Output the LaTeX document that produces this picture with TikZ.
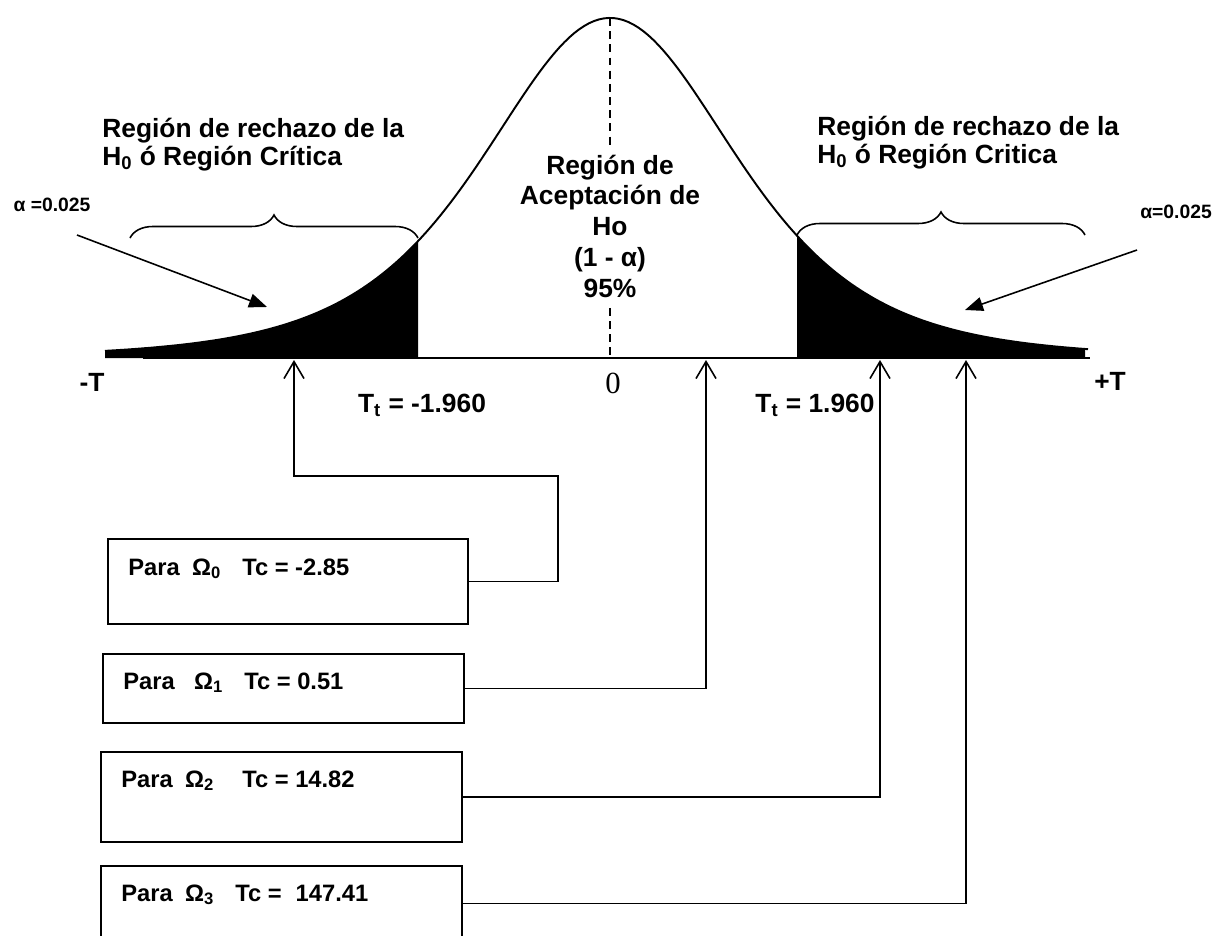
\documentclass[tikz,border=0pt]{standalone}
\usepackage{fontspec}
\setmainfont{Liberation Sans}
\newfontfamily\serifcero{Liberation Serif}
\usetikzlibrary{arrows.meta,decorations.pathreplacing}

\tikzset{
  rotulo/.style={font=\bfseries\fontsize{15}{16}\selectfont, align=left, inner sep=0pt},
  alfa/.style={font=\bfseries\fontsize{11}{13}\selectfont, inner sep=0pt},
  caja/.style={draw, line width=1.1pt, anchor=north west, inner sep=0pt},
  para/.style={font=\bfseries\fontsize{13.5}{15}\selectfont, anchor=base west, inner sep=0pt},
  flecha/.style={line width=0.9pt, -{Straight Barb[length=3.4mm,width=4mm]}},
  punta/.style={line width=0.9pt, -{Triangle[length=3.6mm,width=2.8mm]}},
  llave/.style={decorate, decoration={brace, amplitude=0.46cm}, line width=0.9pt},
}

\begin{document}
\begin{tikzpicture}[x=0.02cm, y=-0.02cm,
    declare function={campana(\x)=358-340*exp(-2.5*ln(1+((\x-610)/131.5)^2/4));}]
  \useasboundingbox (0,0) rectangle (1220,936);

  % colas de rechazo
  \fill plot[domain=105:418, samples=80] (\x,{campana(\x)}) -- (418,358) -- (105,358) -- cycle;
  \fill plot[domain=797:1085, samples=80] (\x,{campana(\x)}) -- (1085,358) -- (797,358) -- cycle;

  % curva y eje
  \draw[line width=1.1pt] plot[domain=105:1088, samples=200] (\x,{campana(\x)});
  \draw[line width=1.3pt] (143,358) -- (1090,358);
  \draw[line width=1pt, dash pattern=on 4.5pt off 3pt] (610,18) -- (610,358);

  \node[font=\bfseries\fontsize{15}{17.5}\selectfont, align=center, fill=white,
        inner xsep=2pt, inner ysep=0.2cm] (acept) at (610,226)
        {Región de\\Aceptación de\\Ho\\(1 - α)\\95\%};

  % titulos de las regiones
  \node[rotulo, anchor=north west] (rechL) at (102,118)
        {Región de rechazo de la\\H\textsubscript{0} ó Región Crítica};
  \node[rotulo, anchor=north west] (rechR) at (817,116)
        {Región de rechazo de la\\H\textsubscript{0} ó Región Critica};

  \draw[llave] (130,238) -- (418,238);
  \draw[llave] (797,235) -- (1085,235);

  \node[alfa] (alfaL) at (52,205) {α =0.025};
  \node[alfa] (alfaR) at (1176,212) {α=0.025};
  \coordinate (aLs) at (77,235);
  \coordinate (aLe) at (267,307);
  \coordinate (aRs) at (1137,250);
  \coordinate (aRe) at (965,310);
  \draw[punta] (aLs) -- (aLe);
  \draw[punta] (aRs) -- (aRe);

  % marcas del eje
  \node[rotulo] (menosT) at (92,382) {-T};
  \node[rotulo] (masT) at (1110,381) {+T};
  \node[font=\serifcero\fontsize{17.5}{18}\selectfont, inner sep=0pt] (cero) at (613,383) {0};
  \node[rotulo] (ttL) at (422,405) {T\textsubscript{t} = -1.960};
  \node[rotulo] (ttR) at (815,405) {T\textsubscript{t} = 1.960};

  \coordinate (t0) at (294,360);
  \coordinate (t1) at (706,360);
  \coordinate (t2) at (880,360);
  \coordinate (t3) at (966,360);

  % cajas
  \node[caja, minimum width=7.2cm, minimum height=1.7cm] (b0) at (107,538) {};
  \node[caja, minimum width=7.22cm, minimum height=1.38cm] (b1) at (102,653) {};
  \node[caja, minimum width=7.22cm, minimum height=1.8cm] (b2) at (100,751) {};
  \node[caja, minimum width=7.22cm, minimum height=1.5cm] (b3) at (100,865) {};

  \node[para] (p0) at (128,575) {Para\hspace{7pt}Ω\textsubscript{0}\hspace{12pt}Tc = -2.85};
  \node[para] (p1) at (123,689) {Para\hspace{11pt}Ω\textsubscript{1}\hspace{12pt}Tc = 0.51};
  \node[para] (p2) at (121,787) {Para\hspace{7pt}Ω\textsubscript{2}\hspace{16pt}Tc = 14.82};
  \node[para] (p3) at (121,901) {Para\hspace{7pt}Ω\textsubscript{3}\hspace{12pt}Tc =\hspace{8pt}147.41};

  \draw[flecha] (b0.east) -| (558,476) -| (t0);
  \draw[flecha] (b1.east) -| (t1);
  \draw[flecha] (b2.east) -| (t2);
  \draw[flecha] (b3.east) -| (t3);
\end{tikzpicture}
\end{document}
